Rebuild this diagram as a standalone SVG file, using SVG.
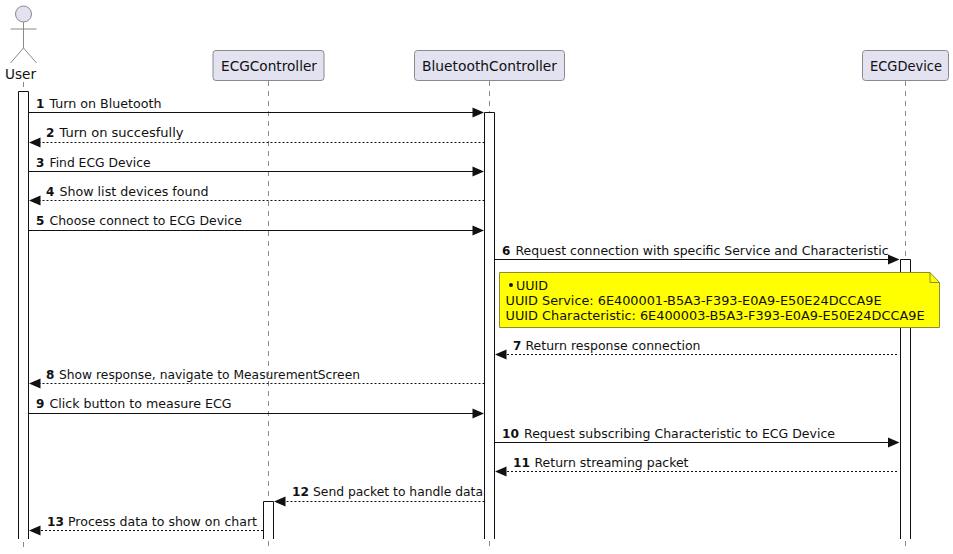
<svg xmlns="http://www.w3.org/2000/svg" width="953" height="554" viewBox="0 0 953 554">
<style>
text{font-family:"DejaVu Sans","Liberation Sans",sans-serif;fill:#111;font-size:12px}
.n{font-weight:bold}
.pn{font-size:14px}
.box{fill:#E2E2F0;stroke:#8a8a8a;stroke-width:1}
.life{stroke:#8a8a8a;stroke-width:1;stroke-dasharray:5 5;fill:none}
.act{fill:#fff;stroke:#111;stroke-width:1}
.m{stroke:#111;stroke-width:1;fill:none}
.d{stroke:#111;stroke-width:1;stroke-dasharray:2 2;fill:none}
.h{fill:#111;stroke:none}
</style>
<rect width="953" height="554" fill="#fff"/>
<g id="lifelines">
<line class="life" x1="23.5" y1="82" x2="23.5" y2="547"/>
<line class="life" x1="268.5" y1="81" x2="268.5" y2="547"/>
<line class="life" x1="489.5" y1="81" x2="489.5" y2="547"/>
<line class="life" x1="905.5" y1="81" x2="905.5" y2="547"/>
</g>
<g id="User">
<circle cx="23.5" cy="14" r="8" fill="#E2E2F0" stroke="#8a8a8a"/>
<path d="M23.5 22V48M10.5 29H36.5M10.5 63L23.5 48L36.5 63" fill="none" stroke="#8a8a8a"/>
<text class="pn" x="5" y="79" textLength="31" lengthAdjust="spacingAndGlyphs">User</text>
<path class="act" d="M18.5 539V91.500H28.500V539"/>
</g>
<g id="ECGController">
<rect class="box" x="213" y="50.5" width="111" height="30" rx="3"/>
<text class="pn" x="221" y="71" textLength="96" lengthAdjust="spacingAndGlyphs">ECGController</text>
<path class="act" d="M263.500 539V501.500H273.500V539"/>
</g>
<g id="BluetoothController">
<rect class="box" x="414.5" y="50.5" width="150" height="30" rx="3"/>
<text class="pn" x="422" y="71" textLength="135" lengthAdjust="spacingAndGlyphs">BluetoothController</text>
<path class="act" d="M484.500 539V112.500H494.500V539"/>
</g>
<g id="ECGDevice">
<rect class="box" x="862.5" y="50.5" width="86" height="30" rx="3"/>
<text class="pn" x="870" y="71" textLength="72" lengthAdjust="spacingAndGlyphs">ECGDevice</text>
<path class="act" d="M900.500 539V259.500H910.500V539"/>
</g>
<g id="connectors">
<line class="m" x1="28.5" y1="112.5" x2="474" y2="112.5"/><path class="h" d="M484 112.500L472.500 107.500V117.500Z"/>
<line class="d" x1="484.5" y1="142.5" x2="40" y2="142.500"/><path class="h" d="M29 142.500L40.500 137.500V147.500Z"/>
<line class="m" x1="28.5" y1="171.5" x2="474" y2="171.5"/><path class="h" d="M484 171.500L472.500 166.500V176.500Z"/>
<line class="d" x1="484.5" y1="200.5" x2="40" y2="200.5"/><path class="h" d="M29 200.500L40.500 195.500V205.500Z"/>
<line class="m" x1="28.5" y1="230.5" x2="474" y2="230.5"/><path class="h" d="M484 230.500L472.500 225.500V235.500Z"/>
<line class="m" x1="494.5" y1="259.5" x2="890" y2="259.5"/><path class="h" d="M899.500 259.500L888 254.500V264.500Z"/>
<line class="d" x1="897" y1="354.5" x2="506" y2="354.5"/><path class="h" d="M495 354.500L506.500 349.500V359.500Z"/>
<line class="d" x1="484.5" y1="383.5" x2="40" y2="383.5"/><path class="h" d="M29 383.500L40.500 378.500V388.500Z"/>
<line class="m" x1="28.5" y1="413.5" x2="474" y2="413.5"/><path class="h" d="M484 413.500L472.500 408.500V418.500Z"/>
<line class="m" x1="494.5" y1="442.5" x2="890" y2="442.5"/><path class="h" d="M899.500 442.500L888 437.500V447.500Z"/>
<line class="d" x1="897" y1="471.5" x2="506" y2="471.5"/><path class="h" d="M495 471.500L506.500 466.500V476.500Z"/>
<line class="d" x1="484.5" y1="501.5" x2="285" y2="501.5"/><path class="h" d="M274 501.500L285.500 496.500V506.500Z"/>
<line class="d" x1="263" y1="530.5" x2="40" y2="530.5"/><path class="h" d="M29 530.500L40.500 525.500V535.500Z"/>
</g>
<g id="labels">
<text x="36" y="108"><tspan class="n">1</tspan></text><text x="49.5" y="108" textLength="112" lengthAdjust="spacingAndGlyphs">Turn on Bluetooth</text>
<text x="46" y="137"><tspan class="n">2</tspan></text><text x="59.5" y="137" textLength="124" lengthAdjust="spacingAndGlyphs">Turn on succesfully</text>
<text x="36" y="167"><tspan class="n">3</tspan></text><text x="49.5" y="167" textLength="101" lengthAdjust="spacingAndGlyphs">Find ECG Device</text>
<text x="46" y="196"><tspan class="n">4</tspan></text><text x="59.5" y="196" textLength="149" lengthAdjust="spacingAndGlyphs">Show list devices found</text>
<text x="36" y="225"><tspan class="n">5</tspan></text><text x="49.5" y="225" textLength="192.500" lengthAdjust="spacingAndGlyphs">Choose connect to ECG Device</text>
<text x="502" y="255"><tspan class="n">6</tspan></text><text x="515.5" y="255" textLength="373" lengthAdjust="spacingAndGlyphs">Request connection with specific Service and Characteristic</text>
<text x="513" y="350"><tspan class="n">7</tspan></text><text x="525.5" y="350" textLength="175" lengthAdjust="spacingAndGlyphs">Return response connection</text>
<text x="46" y="379"><tspan class="n">8</tspan></text><text x="59" y="379" textLength="301" lengthAdjust="spacingAndGlyphs">Show response, navigate to MeasurementScreen</text>
<text x="36" y="408"><tspan class="n">9</tspan></text><text x="49.5" y="408" textLength="182" lengthAdjust="spacingAndGlyphs">Click button to measure ECG</text>
<text x="502" y="438" class="n" textLength="17" lengthAdjust="spacingAndGlyphs">10</text><text x="524" y="438" textLength="311" lengthAdjust="spacingAndGlyphs">Request subscribing Characteristic to ECG Device</text>
<text x="513" y="467" class="n" textLength="17" lengthAdjust="spacingAndGlyphs">11</text><text x="534.5" y="467" textLength="154" lengthAdjust="spacingAndGlyphs">Return streaming packet</text>
<text x="292" y="496" class="n" textLength="17" lengthAdjust="spacingAndGlyphs">12</text><text x="313" y="496" textLength="170" lengthAdjust="spacingAndGlyphs">Send packet to handle data</text>
<text x="47" y="526" class="n" textLength="17" lengthAdjust="spacingAndGlyphs">13</text><text x="68" y="526" textLength="189" lengthAdjust="spacingAndGlyphs">Process data to show on chart</text>
</g>
<g id="note">
<path d="M499.5 272.5H930L939.5 282.5V327.500H499.5Z" fill="#FFFF00" stroke="#8a8a3a"/>
<path d="M930 272.5V282.5H939.5" fill="none" stroke="#8a8a3a"/>
<circle cx="511" cy="285" r="2" fill="#111"/>
<text x="516" y="290" textLength="32" lengthAdjust="spacingAndGlyphs">UUID</text>
<text x="505.5" y="305" textLength="376" lengthAdjust="spacingAndGlyphs">UUID Service: 6E400001-B5A3-F393-E0A9-E50E24DCCA9E</text>
<text x="505.5" y="320" textLength="419" lengthAdjust="spacingAndGlyphs">UUID Characteristic: 6E400003-B5A3-F393-E0A9-E50E24DCCA9E</text>
</g>
</svg>
